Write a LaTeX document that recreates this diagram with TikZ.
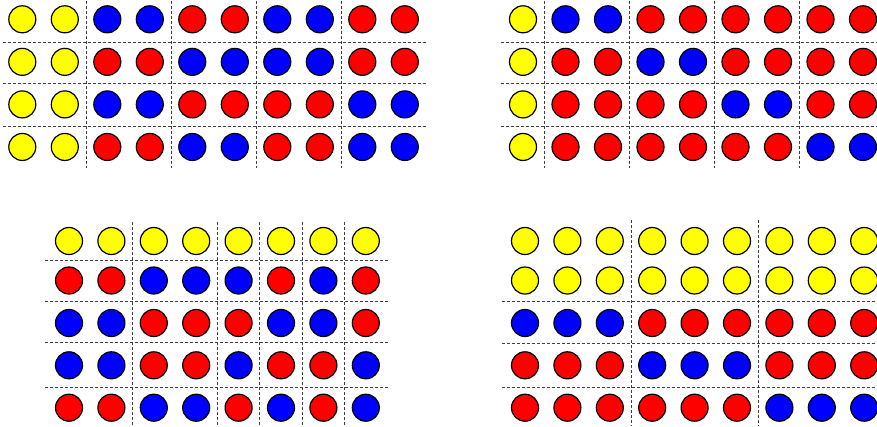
\documentclass[tikz,border=0pt]{standalone}
\definecolor{cY}{RGB}{255,255,0}
\definecolor{cR}{RGB}{255,0,0}
\definecolor{cB}{RGB}{0,0,255}
\tikzset{
  dot/.style={circle, draw=black, line width=1.2pt, minimum size=27pt, inner sep=0pt},
  sepline/.style={draw=black!75, line width=0.8pt, dash pattern=on 3pt off 2pt},
}
\begin{document}
\begin{tikzpicture}[x=1pt,y=-1pt]
\useasboundingbox (0,0) rectangle (877,426);
% ---------- top-left ----------
\foreach \row [count=\r] in {{Y,Y,B,B,R,R,B,B,R,R},{Y,Y,R,R,B,B,B,B,R,R},{Y,Y,B,B,R,R,R,R,B,B},{Y,Y,R,R,B,B,R,R,B,B}} {
  \foreach \c [count=\k] in \row {
    \node[dot, fill=c\c] (tl-\r-\k) at ({22.3+42.5*(\k-1)}, {19.3+42.55*(\r-1)}) {};
  }
}
\foreach \xx in {86,171,256,341} \draw[sepline] (\xx,0.5) -- (\xx,168);
\foreach \yy in {42,83,126} \draw[sepline] (2.5,\yy) -- (426.5,\yy);
% ---------- top-right ----------
\foreach \row [count=\r] in {{Y,B,B,R,R,R,R,R,R},{Y,R,R,B,B,R,R,R,R},{Y,R,R,R,R,B,B,R,R},{Y,R,R,R,R,R,R,B,B}} {
  \foreach \c [count=\k] in \row {
    \node[dot, fill=c\c] (tr-\r-\k) at ({523+42.5*(\k-1)}, {19.3+42.55*(\r-1)}) {};
  }
}
\foreach \xx in {544.25,629.25,714.25,799.25} \draw[sepline] (\xx,0.5) -- (\xx,168);
\foreach \yy in {42,83,126} \draw[sepline] (500.5,\yy) -- (877,\yy);
% ---------- bottom-left ----------
\foreach \row [count=\r] in {{Y,Y,Y,Y,Y,Y,Y,Y},{R,R,B,B,B,R,B,R},{B,B,R,R,R,B,B,R},{B,B,R,R,B,R,R,B},{R,R,B,B,R,B,R,B}} {
  \pgfmathsetmacro\yy{{241,280.5,323,365.3,407.7}[\r-1]}
  \foreach \c [count=\k] in \row {
    \node[dot, fill=c\c] (bl-\r-\k) at ({69+42.4*(\k-1)}, \yy) {};
  }
}
\foreach \xx in {132.6,217.4,259.8,302.2,344.6} \draw[sepline] (\xx,222) -- (\xx,426);
\foreach \yy in {260.3,301.7,342.7,387.3} \draw[sepline] (45,\yy) -- (387.5,\yy);
% ---------- bottom-right ----------
\foreach \row [count=\r] in {{Y,Y,Y,Y,Y,Y,Y,Y,Y},{Y,Y,Y,Y,Y,Y,Y,Y,Y},{B,B,B,R,R,R,R,R,R},{R,R,R,B,B,B,R,R,R},{R,R,R,R,R,R,B,B,B}} {
  \pgfmathsetmacro\yy{{241,280.5,323,365.3,407.7}[\r-1]}
  \foreach \c [count=\k] in \row {
    \node[dot, fill=c\c] (br-\r-\k) at ({525+42.4*(\k-1)}, \yy) {};
  }
}
\foreach \xx in {631,758.2} \draw[sepline] (\xx,220) -- (\xx,426);
\foreach \yy in {301,343.3,387.5} \draw[sepline] (501.7,\yy) -- (877,\yy);
\end{tikzpicture}
\end{document}
